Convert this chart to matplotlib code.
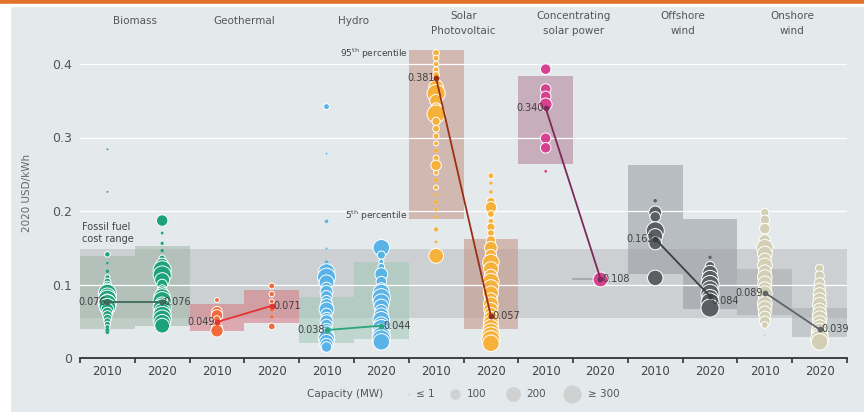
import numpy as np
import matplotlib
matplotlib.use("Agg")
import matplotlib.pyplot as plt
from matplotlib.patches import Rectangle

plt.rcParams['font.family'] = ['DejaVu Sans']

# technologies, left to right
techs = ["Biomass", "Geothermal", "Hydro", "Solar\nPhotovoltaic",
         "Concentrating\nsolar power", "Offshore\nwind", "Onshore\nwind"]
years = ["2010", "2020"]

# project LCOE (2020 USD/kWh) and capacity (MW), per technology and year
bio_2010_lcoe = [0.284, 0.226, 0.141, 0.129, 0.118, 0.110, 0.104, 0.098, 0.093, 0.088, 0.084, 0.080,
                 0.077, 0.074, 0.070, 0.066, 0.062, 0.058, 0.054, 0.050, 0.046, 0.042, 0.038, 0.035]
bio_2010_mw = [1, 1, 25, 5, 10, 20, 40, 80, 150, 300, 250, 300, 200, 300, 250, 150, 100, 80, 60, 40, 30, 20, 15, 10]
bio_2020_lcoe = [0.187, 0.170, 0.156, 0.146, 0.136, 0.127, 0.120, 0.113, 0.106, 0.100, 0.094, 0.088,
                 0.083, 0.078, 0.073, 0.068, 0.063, 0.058, 0.053, 0.048, 0.044]
bio_2020_mw = [120, 5, 8, 10, 30, 150, 300, 300, 200, 100, 60, 150, 250, 300, 200, 300, 250, 300, 300, 250, 200]

geo_2010_lcoe = [0.079, 0.063, 0.058, 0.053, 0.042, 0.037]
geo_2010_mw = [20, 100, 120, 40, 100, 140]
geo_2020_lcoe = [0.098, 0.087, 0.077, 0.066, 0.056, 0.043]
geo_2020_mw = [30, 25, 20, 15, 10, 40]

hyd_2010_lcoe = [0.342, 0.278, 0.186, 0.149, 0.130, 0.117, 0.110, 0.103, 0.096, 0.090, 0.084, 0.078, 0.072,
                 0.066, 0.060, 0.055, 0.050, 0.045, 0.040, 0.035, 0.030, 0.026, 0.022, 0.018, 0.015]
hyd_2010_mw = [30, 1, 10, 2, 15, 250, 300, 200, 100, 150, 120, 100, 150, 200, 120, 100, 150, 120, 100,
               150, 200, 250, 200, 150, 100]
hyd_2020_lcoe = [0.150, 0.140, 0.131, 0.124, 0.114, 0.104, 0.096, 0.089, 0.082, 0.076, 0.070, 0.064,
                 0.058, 0.052, 0.046, 0.040, 0.035, 0.030, 0.026, 0.022]
hyd_2020_mw = [250, 60, 20, 40, 150, 100, 80, 250, 300, 250, 200, 150, 200, 250, 200, 300, 250, 300, 300, 250]

pv_2010_lcoe = [0.415, 0.408, 0.400, 0.392, 0.385, 0.376, 0.368, 0.360, 0.350, 0.340, 0.332, 0.322, 0.312,
                0.302, 0.292, 0.282, 0.272, 0.262, 0.252, 0.242, 0.232, 0.222, 0.212, 0.202, 0.192, 0.175,
                0.158, 0.139]
pv_2010_mw = [40, 30, 25, 30, 40, 60, 200, 300, 150, 100, 300, 60, 40, 30, 20, 15, 30, 100, 20, 15, 20,
              10, 15, 10, 8, 15, 5, 200]
pv_2020_lcoe = [0.248, 0.238, 0.226, 0.213, 0.205, 0.196, 0.186, 0.178, 0.170, 0.160, 0.150, 0.140, 0.130,
                0.121, 0.112, 0.104, 0.096, 0.088, 0.080, 0.073, 0.066, 0.060, 0.054, 0.048, 0.042, 0.036,
                0.030, 0.025, 0.020]
pv_2020_mw = [30, 8, 10, 60, 120, 40, 30, 60, 40, 80, 150, 120, 250, 200, 150, 250, 220, 200, 150, 200,
              180, 150, 180, 200, 220, 250, 300, 300, 250]

csp_2010_lcoe = [0.393, 0.366, 0.356, 0.345, 0.299, 0.286, 0.254]
csp_2010_mw = [100, 100, 100, 150, 100, 100, 5]
csp_2020_lcoe = [0.108]
csp_2020_mw = [200]

off_2010_lcoe = [0.214, 0.198, 0.192, 0.173, 0.166, 0.156, 0.109]
off_2010_mw = [10, 150, 100, 300, 200, 150, 220]
off_2020_lcoe = [0.137, 0.125, 0.116, 0.108, 0.100, 0.094, 0.088, 0.082, 0.076, 0.068]
off_2020_mw = [10, 80, 200, 250, 300, 250, 300, 250, 300, 300]

on_2010_lcoe = [0.198, 0.188, 0.176, 0.160, 0.150, 0.142, 0.134, 0.126, 0.118, 0.110, 0.102, 0.095, 0.088,
                0.081, 0.074, 0.068, 0.062, 0.056, 0.050, 0.045, 0.031]
on_2010_mw = [60, 80, 100, 120, 250, 200, 150, 200, 150, 200, 180, 150, 200, 150, 200, 180, 150, 120,
              100, 40, 2]
on_2020_lcoe = [0.122, 0.112, 0.102, 0.094, 0.087, 0.080, 0.073, 0.066, 0.060, 0.054, 0.048, 0.042,
                0.036, 0.031, 0.026, 0.022]
on_2020_mw = [60, 80, 100, 120, 150, 150, 180, 150, 180, 200, 180, 200, 250, 250, 300, 250]

# 5th / 95th percentile per slot
p5 = [0.040, 0.043, 0.037, 0.047, 0.021, 0.026, 0.189, 0.040, 0.264, 0.108, 0.114, 0.067, 0.058, 0.029]
p95 = [0.139, 0.153, 0.074, 0.093, 0.083, 0.130, 0.419, 0.162, 0.384, 0.108, 0.263, 0.189, 0.121, 0.068]

# weighted averages 2010, 2020
avg_2010 = [0.076, 0.049, 0.038, 0.381, 0.340, 0.162, 0.089]
avg_2020 = [0.076, 0.071, 0.044, 0.057, 0.108, 0.084, 0.039]

fossil_low, fossil_high = 0.054, 0.148

points = [(bio_2010_lcoe, bio_2010_mw), (bio_2020_lcoe, bio_2020_mw),
          (geo_2010_lcoe, geo_2010_mw), (geo_2020_lcoe, geo_2020_mw),
          (hyd_2010_lcoe, hyd_2010_mw), (hyd_2020_lcoe, hyd_2020_mw),
          (pv_2010_lcoe, pv_2010_mw), (pv_2020_lcoe, pv_2020_mw),
          (csp_2010_lcoe, csp_2010_mw), (csp_2020_lcoe, csp_2020_mw),
          (off_2010_lcoe, off_2010_mw), (off_2020_lcoe, off_2020_mw),
          (on_2010_lcoe, on_2010_mw), (on_2020_lcoe, on_2020_mw)]

dot_colors = ['#1ea27b', '#f26b3a', '#5ab3e6', '#f6b13a', '#d6428f', '#5b5f63', '#d3cfb4']
box_colors = ['#9fb6a7', '#d5767d', '#9fc8b4', '#c39282', '#b17f95', '#94999e', '#a8adb0']
line_colors = ['#3f6b5a', '#e8322f', '#2aa57f', '#9c2f14', '#7b2a5a', '#3c3f42', '#5f6468']

bg = '#e4e9ec'


def size(mw):
    return 1.5 + 0.56 * np.minimum(np.asarray(mw, dtype=float), 320)


fig = plt.figure(figsize=(8.64, 4.12), dpi=100, facecolor=bg)
# white strip left and orange bar top
fig.patches.append(Rectangle((0, 0), 10 / 864, 1, transform=fig.transFigure, color='white', zorder=0))
fig.patches.append(Rectangle((0, 1 - 4 / 412), 1, 4 / 412, transform=fig.transFigure,
                             color='#e2722a', zorder=5))
fig.patches.append(Rectangle((0, 1 - 6 / 412), 1, 2 / 412, transform=fig.transFigure,
                             color='white', zorder=5))

ax = fig.add_axes([80 / 864, (412 - 358) / 412, 767 / 864, 330.75 / 412])
ax.set_facecolor(bg)
ax.set_xlim(0, 14)
ax.set_ylim(0, 0.45)

for s in ['top', 'right', 'left']:
    ax.spines[s].set_visible(False)
ax.spines['bottom'].set_color('#333333')
ax.spines['bottom'].set_linewidth(1.3)

for yv in [0.1, 0.2, 0.3, 0.4]:
    ax.axhline(yv, color='white', lw=0.9, zorder=1.5)

# fossil fuel band
ax.add_patch(Rectangle((0, fossil_low), 14, fossil_high - fossil_low, color='#babdc0', alpha=0.55,
                       lw=0, zorder=1))

for i in range(14):
    t = i // 2
    if p95[i] > p5[i]:
        ax.add_patch(Rectangle((i, p5[i]), 1, p95[i] - p5[i], color=box_colors[t], alpha=0.55,
                               lw=0, zorder=1))
    else:
        ax.plot([i, i + 0.5], [p5[i], p5[i]], color='#a0a4a8', lw=1.2, zorder=1.2)
    lc, mw = points[i]
    lws = np.where(np.asarray(mw) >= 20, 0.7, 0.1)
    ax.scatter(np.full(len(lc), i + 0.5), lc, s=size(mw), color=dot_colors[t],
               edgecolor='white', linewidths=lws, zorder=3)

for t in range(7):
    x0, x1 = 2 * t + 0.5, 2 * t + 1.5
    ax.plot([x0, x1], [avg_2010[t], avg_2020[t]], color=line_colors[t], lw=1.3, zorder=4)
    ax.scatter([x0, x1], [avg_2010[t], avg_2020[t]], s=10, color=line_colors[t], zorder=5)
    ax.text(x0 - 0.03, avg_2010[t], f"{avg_2010[t]:.3f}", ha='right', va='center',
            fontsize=7, color='#404040', zorder=6)
    dy = -0.006 if t == 5 else 0
    ax.text(x1 + 0.03, avg_2020[t] + dy, f"{avg_2020[t]:.3f}", ha='left', va='center',
            fontsize=7, color='#404040', zorder=6)
    ax.text(2 * t + 1, 0.455 if '\n' in techs[t] else 0.459, techs[t], ha='center', va='center',
            fontsize=7.5, color='#555555', linespacing=1.55, clip_on=False)

ax.text(6 - 0.02, 0.414, "95$^{\\mathrm{th}}$ percentile", ha='right', va='center',
        fontsize=6.5, color='#444444')
ax.text(6 - 0.02, 0.193, "5$^{\\mathrm{th}}$ percentile", ha='right', va='center',
        fontsize=6.5, color='#444444')
ax.text(0.03, 0.170, "Fossil fuel\ncost range", ha='left', va='center', fontsize=7,
        color='#444444', linespacing=1.2)

ax.set_xticks(np.arange(0, 15))
ax.set_xticklabels([])
ax.set_xticks(np.arange(14) + 0.5, minor=True)
ax.set_xticklabels(years * 7, minor=True, fontsize=8.5, color='#444444')
ax.tick_params(axis='x', which='major', length=3.5, width=1.2, color='#333333', direction='out')
ax.tick_params(axis='x', which='minor', length=0, pad=5)

ax.set_yticks([0, 0.1, 0.2, 0.3, 0.4])
ax.set_yticklabels(["0", "0.1", "0.2", "0.3", "0.4"], fontsize=9, color='#555555')
ax.tick_params(axis='y', length=0, pad=6)
ax.set_ylabel("2020 USD/kWh", fontsize=7.5, color='#666666', labelpad=14)

# capacity legend
lax = fig.add_axes([0, 0, 1, 1])
lax.set_xlim(0, 864)
lax.set_ylim(412, 0)
lax.axis('off')
lax.patch.set_alpha(0)
lax.text(307, 394, "Capacity (MW)", ha='left', va='center', fontsize=7.5, color='#555555')
leg_mw = [1, 100, 200, 300]
leg_lab = ["≤ 1", "100", "200", "≥ 300"]
leg_x = [409, 455, 513, 572]
leg_tx = [416, 467, 526, 588]
for xm, m, lab, xt in zip(leg_x, leg_mw, leg_lab, leg_tx):
    lax.scatter([xm], [394], s=size([m]), color='#d0d1d1', lw=0)
    lax.text(xt, 394, lab, ha='left', va='center', fontsize=7.5, color='#555555')

fig.savefig("out.png", dpi=100, facecolor=bg)
